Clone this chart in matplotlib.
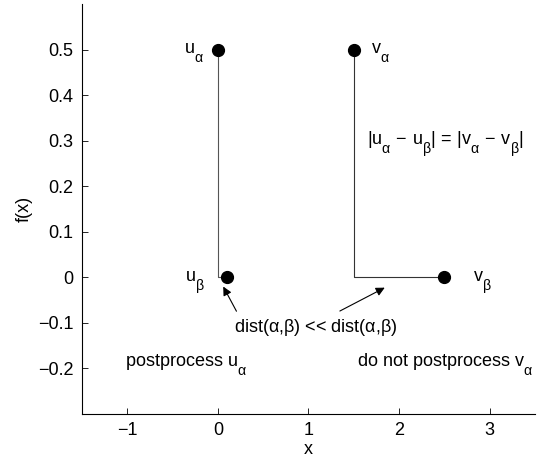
import matplotlib
matplotlib.use('Agg')
import matplotlib.pyplot as plt
import matplotlib._mathtext as mt

plt.rcParams['font.family'] = ['Liberation Sans', 'DejaVu Sans']
plt.rcParams['mathtext.fontset'] = 'custom'
plt.rcParams['mathtext.rm'] = 'Liberation Sans'
plt.rcParams['mathtext.it'] = 'Liberation Sans'
plt.rcParams['mathtext.sf'] = 'Liberation Sans'
# lower subscripts
mt.SHRINK_FACTOR = 0.78
mt.FontConstantsBase.sub1 = 0.9
mt.FontConstantsBase.sub2 = 0.9

# points alpha / beta for u and v
u_x = [0.0, 0.1]
u_y = [0.5, 0.0]
v_x = [1.5, 2.5]
v_y = [0.5, 0.0]

# connecting paths (alpha down to zero, then across to beta)
u_path_x = [0.0, 0.0, 0.1]
u_path_y = [0.5, 0.0, 0.0]
v_path_x = [1.5, 1.5, 2.5]
v_path_y = [0.5, 0.0, 0.0]

xticks = [-1, 0, 1, 2, 3]
yticks = [-0.2, -0.1, 0, 0.1, 0.2, 0.3, 0.4, 0.5]
ytick_labels = ['\u22120.2', '\u22120.1', '0', '0.1', '0.2', '0.3', '0.4', '0.5']
xtick_labels = ['\u22121', '0', '1', '2', '3']

fig = plt.figure(figsize=(5.43, 4.66), dpi=100)
ax = fig.add_axes([0.151, 0.112, 0.834, 0.879])

ax.plot(u_path_x, u_path_y, color='#555555', lw=0.8)
ax.plot(v_path_x, v_path_y, color='#333333', lw=0.8)
ax.plot(u_x, u_y, 'o', color='black', ms=8.5)
ax.plot(v_x, v_y, 'o', color='black', ms=8.5)

fs = 13
ax.text(-0.15, 0.493, r'$\mathrm{u}_{\alpha}$', ha='right', va='baseline', fontsize=fs)
ax.text(1.69, 0.493, r'$\mathrm{v}_{\alpha}$', ha='left', va='baseline', fontsize=fs)
ax.text(-0.14, -0.008, r'$\mathrm{u}_{\beta}$', ha='right', va='baseline', fontsize=fs)
ax.text(2.82, -0.008, r'$\mathrm{v}_{\beta}$', ha='left', va='baseline', fontsize=fs)
ax.text(1.65, 0.292, r'$|\mathrm{u}_{\alpha}\,-\,\mathrm{u}_{\beta}|\,=\,|\mathrm{v}_{\alpha}\,-\,\mathrm{v}_{\beta}|$',
        ha='left', va='baseline', fontsize=fs)
ax.text(1.08, -0.12, r'dist($\alpha$,$\beta$) << dist($\alpha$,$\beta$)',
        ha='center', va='baseline', fontsize=fs)
ax.text(-1.025, -0.195, r'postprocess $\mathrm{u}_{\alpha}$', ha='left', va='baseline', fontsize=fs)
ax.text(1.54, -0.195, r'do not postprocess $\mathrm{v}_{\alpha}$', ha='left', va='baseline', fontsize=fs)

arrow = dict(arrowstyle='-|>', color='black', lw=0.8, mutation_scale=13)
ax.annotate('', xy=(0.045, -0.015), xytext=(0.22, -0.08), arrowprops=arrow)
ax.annotate('', xy=(1.87, -0.02), xytext=(1.32, -0.077), arrowprops=arrow)

ax.set_xlim(-1.5, 3.5)
ax.set_ylim(-0.3, 0.6)
ax.set_xticks(xticks)
ax.set_xticklabels(xtick_labels)
ax.set_yticks(yticks)
ax.set_yticklabels(ytick_labels)
ax.tick_params(direction='in', length=4, labelsize=fs, width=0.6, pad=6)
ax.spines['top'].set_visible(False)
ax.spines['right'].set_visible(False)
ax.spines['left'].set_linewidth(0.8)
ax.spines['bottom'].set_linewidth(0.8)
ax.set_xlabel('x', fontsize=fs, labelpad=1)
ax.set_ylabel('f(x)', fontsize=fs, labelpad=4)

fig.savefig('out.png', dpi=100)
